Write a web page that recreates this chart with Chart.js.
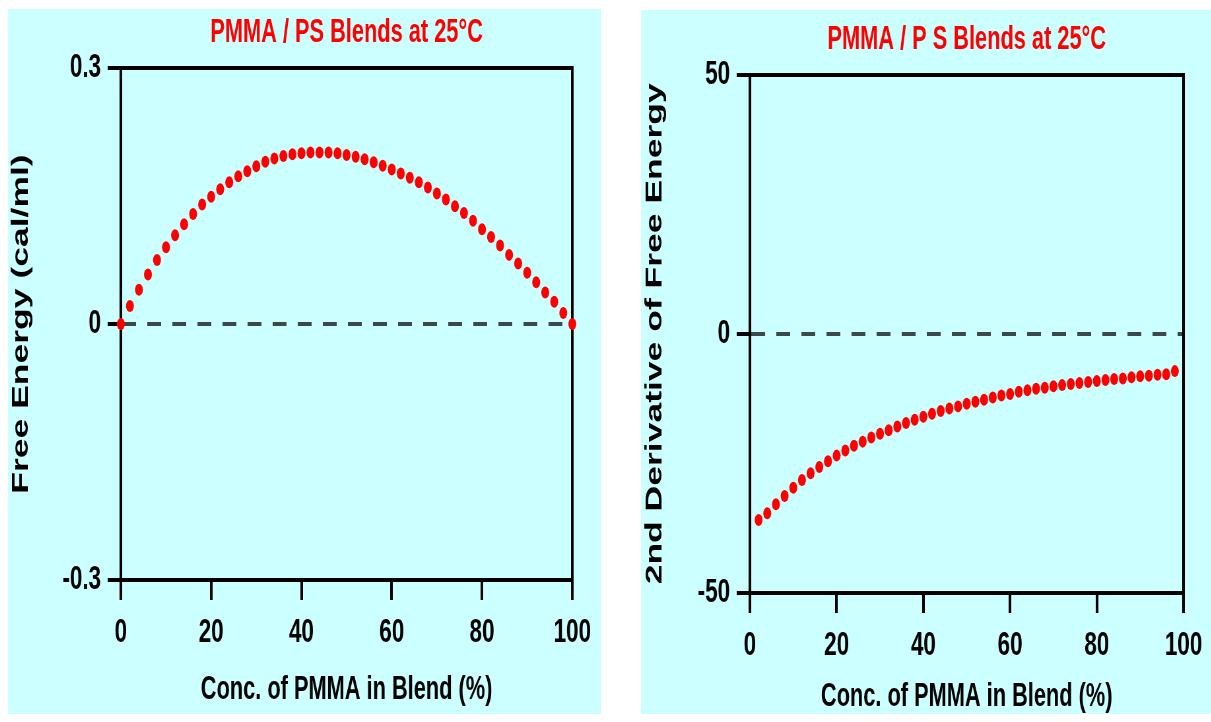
<!DOCTYPE html>
<html>
<head>
<meta charset="utf-8">
<script src="https://cdn.jsdelivr.net/npm/chart.js@4.4.1/dist/chart.umd.min.js"></script>
<style>
html,body{margin:0;padding:0;background:#ffffff;width:1211px;height:722px;overflow:hidden;}
.panel{position:absolute;background:#ccffff;overflow:hidden;}
.panel canvas{position:absolute;left:0;top:0;transform-origin:0 0;transform:scaleX(0.66);}
</style>
</head>
<body>
<div class="panel" style="left:8px;top:9px;width:593px;height:705px;">
  <canvas id="c1" width="898" height="705" style="width:898px;height:705px;"></canvas>
</div>
<div class="panel" style="left:641px;top:10px;width:570px;height:704px;">
  <canvas id="c2" width="864" height="704" style="width:864px;height:704px;"></canvas>
</div>
<script>
// ---- data ----
const concLeft = [0,2,4,6,8,10,12,14,16,18,20,22,24,26,28,30,32,34,36,38,40,42,44,46,48,50,
  52,54,56,58,60,62,64,66,68,70,72,74,76,78,80,82,84,86,88,90,92,94,96,98,100];
const freeEnergy = [0,0.021,0.040,0.058,0.075,0.090,0.104,0.117,0.129,0.140,0.149,0.158,0.166,
  0.173,0.179,0.185,0.190,0.194,0.197,0.199,0.200,0.201,0.201,0.201,0.200,0.198,0.196,0.193,
  0.1895,0.1855,0.181,0.1765,0.1715,0.166,0.160,0.153,0.146,0.138,0.130,0.121,0.111,0.102,
  0.092,0.081,0.071,0.060,0.049,0.037,0.026,0.013,0];

const concRight = [2,4,6,8,10,12,14,16,18,20,22,24,26,28,30,32,34,36,38,40,42,44,46,48,50,
  52,54,56,58,60,62,64,66,68,70,72,74,76,78,80,82,84,86,88,90,92,94,96,98];
const secondDerivative = [-35.9,-34.6,-32.9,-31.3,-29.7,-28.2,-26.9,-25.7,-24.6,-23.5,-22.5,
  -21.6,-20.8,-20.0,-19.3,-18.6,-17.9,-17.2,-16.6,-16.0,-15.4,-14.9,-14.4,-14.0,-13.5,-13.1,
  -12.7,-12.3,-11.9,-11.6,-11.2,-10.9,-10.6,-10.4,-10.1,-9.9,-9.7,-9.5,-9.3,-9.1,-8.9,-8.7,
  -8.6,-8.4,-8.2,-8.1,-7.9,-7.8,-7.2];

const xTicks = [0,20,40,60,80,100];
const xTickLabels = ['0','20','40','60','80','100'];
const leftYTicks = [-0.3,0,0.3];
const leftYTickLabels = ['-0.3','0','0.3'];
const rightYTicks = [-50,0,50];
const rightYTickLabels = ['-50','0','50'];

const leftTitle = 'PMMA / PS Blends at 25°C';
const rightTitle = 'PMMA / P S Blends at 25°C';
const xAxisTitle = 'Conc. of PMMA in Blend (%)';
const leftYAxisTitle = 'Free Energy (cal/ml)';
const rightYAxisTitle = '2nd Derivative of Free Energy';

// ---- chart builder ----
const FAMILY = "'Liberation Sans', Arial, Helvetica, sans-serif";
const font = (size, lh) => ({family: FAMILY, size: size, weight: 'bold', lineHeight: lh});

function makeChart(canvasId, cfg) {
  const points = cfg.xs.map((x, i) => ({x: x, y: cfg.ys[i]}));
  return new Chart(document.getElementById(canvasId), {
    type: 'scatter',
    data: {
      datasets: [{
        data: points,
        showLine: false,
        pointRadius: 6,
        pointHoverRadius: 6,
        pointBackgroundColor: '#ff0000',
        pointBorderWidth: 0,
        clip: false
      }]
    },
    options: {
      responsive: false,
      animation: false,
      devicePixelRatio: 1,
      layout: {padding: {left: 0, right: cfg.rightPad, top: 0, bottom: 0}},
      plugins: {
        legend: {display: false},
        tooltip: {enabled: false},
        title: {
          display: true,
          text: cfg.title,
          color: '#ff0000',
          fullSize: false,
          font: font(33, 1.2),
          padding: {top: cfg.titlePadTop, bottom: cfg.titlePadBottom}
        }
      },
      scales: {
        x: {
          type: 'linear',
          position: 'bottom',
          min: 0, max: 100,
          afterBuildTicks: s => { s.ticks = xTicks.map(v => ({value: v})); },
          afterFit: s => { s.height = cfg.xAxisHeight; },
          ticks: {
            color: '#000',
            font: font(34, 1.2),
            padding: 12,
            maxRotation: 0,
            autoSkip: false,
            callback: (v, i) => xTickLabels[i]
          },
          grid: {
            display: true,
            drawOnChartArea: false,
            drawTicks: true,
            tickLength: 20,
            tickColor: '#000',
            tickWidth: 4,
            lineWidth: 4
          },
          border: {display: true, color: '#000', width: 4},
          title: {
            display: true,
            text: xAxisTitle,
            color: '#000',
            font: font(33, 1),
            padding: {top: 0, bottom: cfg.xTitlePadBottom}
          }
        },
        y: {
          type: 'linear',
          position: 'left',
          min: cfg.yTicks[0], max: cfg.yTicks[cfg.yTicks.length - 1],
          afterBuildTicks: s => { s.ticks = cfg.yTicks.map(v => ({value: v})); },
          afterFit: s => { s.width = cfg.yAxisWidth; },
          ticks: {
            color: '#000',
            font: font(34, 1.2),
            padding: 10,
            callback: (v, i) => cfg.yLabels[i]
          },
          grid: {
            display: true,
            drawOnChartArea: true,
            drawTicks: true,
            tickLength: 20,
            color: c => (c.tick && c.tick.value === 0) ? '#3d4949' : 'rgba(0,0,0,0)',
            lineWidth: 4,
            tickColor: '#000',
            tickWidth: 4,
            tickBorderDash: []
          },
          border: {display: true, color: '#000', width: 4, dash: [21, 17]},
          title: {
            display: true,
            text: cfg.yTitle,
            color: '#000',
            font: font(cfg.yTitleSize, 1),
            padding: {top: cfg.yTitlePadTop, bottom: 0}
          }
        },
        xTop: {
          type: 'linear',
          position: 'top',
          min: 0, max: 100,
          afterFit: s => { s.height = 0; },
          ticks: {display: false},
          grid: {display: false, drawTicks: false},
          border: {display: true, color: '#000', width: 4}
        },
        yRight: {
          type: 'linear',
          position: 'right',
          min: 0, max: 1,
          afterFit: s => { s.width = 0; },
          ticks: {display: false},
          grid: {display: false, drawTicks: false},
          border: {display: true, color: '#000', width: 4}
        }
      }
    }
  });
}

makeChart('c1', {
  xs: concLeft, ys: freeEnergy,
  yTicks: leftYTicks, yLabels: leftYTickLabels,
  title: leftTitle, yTitle: leftYAxisTitle, yTitleSize: 35.5,
  rightPad: 43, yAxisWidth: 171, xAxisHeight: 134,
  titlePadTop: 4, titlePadBottom: 15.4,
  xTitlePadBottom: 7.5, yTitlePadTop: 2
});

makeChart('c2', {
  xs: concRight, ys: secondDerivative,
  yTicks: rightYTicks, yLabels: rightYTickLabels,
  title: rightTitle, yTitle: rightYAxisTitle, yTitleSize: 35.5,
  rightPad: 42, yAxisWidth: 165, xAxisHeight: 121,
  titlePadTop: 10, titlePadBottom: 15,
  xTitlePadBottom: 0.5, yTitlePadTop: 3
});
</script>
</body>
</html>
